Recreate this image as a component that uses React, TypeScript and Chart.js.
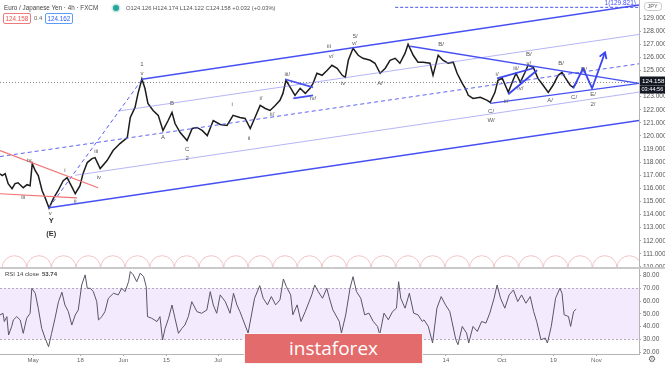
import React, { useEffect, useRef } from 'react';
import { Chart, registerables } from 'chart.js';
Chart.register(...registerables);

// ---- time axis (trading days since 1 May 2020) ----
const X_MIN = -7.7;
const X_MAX = 140.9;
const xTickDays = [0, 11, 21, 31, 43, 51, 66, 76, 87, 96, 109, 121, 131];
const xTickLabels = ['May', '18', 'Jun', '15', 'Jul', '13', 'Aug', '17', 'Sep', '14', 'Oct', '19', 'Nov'];

// ---- price (EUR/JPY 4h, traced) ----
const priceDays = [-7.7,-7.2,-6.5,-5.8,-4.9,-4.2,-3.5,-2.3,-1.4,-0.7,
-0.2,0.5,1.2,2.1,2.8,3.7,4.7,5.8,7.0,7.9,
9.1,9.8,10.9,11.6,12.6,13.7,14.4,15.6,17.2,18.6,
20.2,21.9,22.6,23.7,24.4,25.3,26.0,26.7,27.9,29.1,
30.2,31.4,32.3,33.0,34.2,35.8,37.0,38.1,39.3,40.5,
41.9,43.5,45.1,46.5,48.1,49.3,50.5,51.6,52.8,54.0,
55.1,56.3,57.4,58.1,58.8,59.8,60.9,62.1,63.3,64.4,
65.1,66.0,67.2,68.4,69.5,70.7,71.9,72.6,73.3,74.4,
75.6,76.7,78.4,79.5,80.7,81.9,83.0,84.2,85.3,86.5,
87.2,88.4,89.5,90.7,92.3,93.0,94.2,95.3,96.5,97.7,
98.6,99.8,100.5,101.2,102.3,104.0,105.6,106.3,107.4,108.1,
109.1,109.8,110.5,111.6,112.3,113.3,114.4,115.1,116.3,117.4,
118.6,119.8,120.9,122.1,123.0,123.7,124.9,125.6,126.5];
const priceClose = [117.12,116.97,117.12,116.36,115.97,116.36,116.43,116.05,116.28,116.20,
117.89,117.35,116.97,115.82,115.28,114.5,115.21,115.82,116.59,116.82,
116.05,115.59,116.20,117.12,117.97,118.27,118.35,117.51,118.12,118.89,
119.42,119.88,121.41,122.18,123.25,124.35,123.64,122.49,121.95,121.57,
120.42,121.18,121.80,120.95,120.26,119.65,120.57,120.65,120.42,120.03,
121.18,120.88,120.80,121.57,121.41,121.34,120.57,121.41,122.33,122.10,
121.95,122.33,122.72,123.25,124.25,123.71,123.10,123.64,123.25,123.64,
124.02,124.79,124.63,125.02,125.40,125.17,124.63,124.48,125.78,126.70,
126.16,125.93,125.78,125.55,124.79,125.17,125.78,125.93,125.55,126.32,
127.0,126.16,125.63,125.63,125.55,124.63,126.16,125.78,125.55,125.63,
124.79,124.02,123.64,123.10,122.87,122.95,122.72,122.56,123.33,124.25,
124.40,123.87,123.33,124.25,124.79,124.10,124.86,125.40,125.25,124.40,
123.87,123.33,123.87,124.63,124.86,124.48,123.87,123.71,124.158];
const lastPrice = 124.158;
const PRICE_MIN = 109.92;
const PRICE_MAX = 130.38;

// ---- RSI 14 (traced) ----
const rsiDays = [-7.7,-7.0,-6.7,-6.1,-5.7,-5.0,-4.6,-3.8,-3.0,-2.3,
-1.5,-0.7,-0.3,0.5,1.2,2.0,2.8,3.6,4.3,5.1,
5.9,6.7,7.4,8.2,9.0,9.8,10.5,11.3,12.1,12.6,
13.3,14.0,14.8,15.2,16.0,16.7,17.5,18.7,19.8,20.6,
21.4,22.2,22.6,23.3,24.1,24.9,25.7,26.3,26.6,27.6,
28.8,29.5,30.1,30.7,31.5,32.3,33.0,33.8,34.6,35.3,
36.1,36.9,38.1,39.2,40.4,41.2,41.9,42.7,43.5,44.7,
45.8,46.6,47.4,48.1,
50.0,51.5,52.7,53.5,54.5,55.4,56.4,57.4,58.2,58.9,
59.9,60.4,61.4,62.3,63.3,64.8,65.5,66.3,67.3,68.3,
68.8,69.7,71.2,71.7,72.7,73.7,74.4,75.2,76.2,77.1,
78.1,79.1,80.1,80.6,81.6,82.6,83.6,84.5,85.0,85.5,
86.5,87.5,88.5,89.5,90.5,90.9,91.9,92.9,93.9,94.9,
95.9,96.9,97.4,98.3,98.8,99.8,100.8,101.3,102.3,103.3,
104.3,105.3,106.2,107.2,107.9,108.7,109.7,110.7,111.7,112.7,
113.6,114.6,115.6,116.4,117.1,118.1,119.1,119.6,120.5,121.5,
122.5,123.0,123.5,124.5,125.0,125.7,126.3];
const rsiValues = [49.1,50.4,43.9,47.8,33.4,39.9,45.2,47.8,45.2,34.7,
46.5,50.4,70,66.1,54.3,38.6,30.8,24.2,34.7,46.5,
59.5,66.9,56.9,51.7,41.2,49.1,53.0,72.6,80.5,70,
70,67.4,59.5,45.2,47.8,51.7,62.2,66.1,64.8,70,
67.4,75.2,83.1,80.5,75.2,81.8,79.2,71.3,47.8,46.5,
43.9,47.8,29.5,38.6,46.5,56.9,46.5,34.7,38.6,41.2,
47.8,59.5,51.7,50.4,53.0,67.4,56.9,50.4,64.8,59.5,
50.4,66.1,56.9,51.7,
34.9,62.2,72.1,62.2,57.0,63.5,57.0,60.9,77.3,71.3,
64.8,49.2,57.0,44.0,51.8,64.8,72.6,67.4,62.2,70,
63.5,53.1,44.0,34.9,49.2,70,79.1,67.4,62.2,49.2,
50.5,44.0,40.1,33.6,50.5,45.3,51.8,54.4,75.2,62.2,
54.4,66.1,50.5,49.2,44.0,45.3,40.1,27.1,54.4,63.5,
57.0,51.8,44.0,29.7,25.8,40.1,34.9,27.1,40.1,36.2,
44.0,42.7,50.5,62.2,72.6,62.2,54.4,64.8,68.7,59.6,
64.8,58.3,63.5,51.8,44.0,29.7,31.0,27.1,40.1,62.2,
70,66.1,49.2,47.9,40.1,51.8,53.74];
const RSI_MIN = 18.5;
const RSI_MAX = 85.9;
const rsiUpper = 70;
const rsiLower = 30;

// ---- drawings: [day, price] ----
const channelUpper = [[25.3, 124.33], [140.9, 130.0]];
const channelLower = [[3.7, 114.52], [140.9, 121.18]];
const channelMid = [[-7.7, 118.43], [140.9, 125.51]];
const quarterUpper = [[19.8, 121.9], [140.9, 127.75]];
const quarterLower = [[9.8, 117.0], [140.9, 123.35]];
const wave1Line = [[3.7, 114.52], [25.3, 124.3]];
const redUpper = [[-7.7, 118.89], [15.1, 116.05]];
const redLower = [[-7.7, 115.59], [10.2, 115.28]];
const triUpper = [[58.6, 124.33], [65.1, 123.71]];
const triLower = [[60.5, 122.87], [65.1, 123.10]];
const bLine = [[87.7, 126.85], [140.9, 124.02]];
const cLine = [[106.3, 122.49], [140.9, 124.02]];
const wedgeUpper = [[107.9, 124.40], [116.3, 125.17]];
const wedgeLower = [[110.5, 123.18], [117.2, 125.02]];
const projection = [[125.6, 123.64], [127.9, 125.17], [130.0, 123.64], [133.0, 126.39]];
const targetLevel = 129.821;
const targetStartDay = 84.2;
const cycleStartDay = -7.2;
const cyclePeriodDays = 5.72;

const waveLabelDays = [-2.3, -0.9, 4.0, 4.2, 4.2, 7.4, 9.8, 14.7, 15.3, 25.3, 25.3, 32.3, 30.2, 35.8, 35.8,
  46.3, 50.2, 53.0, 55.6, 59.1, 65.1, 68.8, 69.3, 72.1, 74.9, 74.7, 80.7, 94.9,
  115.3, 107.9, 112.3, 115.3, 113.3, 110.0, 106.5, 106.5, 120.2, 122.8, 125.8, 128.1, 130.2, 130.2];
const waveLabelPrices = [115.28, 118.12, 114.13, 113.55, 112.5, 117.35, 114.98, 118.81, 116.82, 125.48, 124.79, 122.49, 119.88, 118.96, 118.27,
  122.41, 119.80, 122.87, 121.64, 124.71, 122.87, 126.85, 126.09, 124.02, 127.62, 127.08, 124.02, 127.0,
  126.24, 124.71, 125.17, 125.55, 123.64, 122.64, 121.87, 121.18, 122.72, 125.55, 122.95, 125.09, 123.18, 122.41];
const waveLabelTexts = ['iii', 'iv', 'v', 'Y', '(E)', 'i', 'ii', 'iii', 'iv', '1', 'v', 'B', 'A', 'C', '2',
  'i', 'ii', 'i/', 'ii/', 'iii/', 'iv/', 'iii', 'v/', 'iv', '5/', 'v/', 'A/', 'B/',
  'B/', 'i/', 'iii/', 'v/', 'iv/', 'ii/', 'C/', 'W/', 'A/', 'B/', 'C/', 'D/', 'E/', '2/'];

const FONT = '"Liberation Sans", Arial, sans-serif';

function noPad(s: any) {
  s.paddingTop = 0; s.paddingBottom = 0; s.paddingLeft = 0; s.paddingRight = 0;
}

function polyline(ctx: CanvasRenderingContext2D, chart: any, pts: number[][], color: string, width: number, dash: number[] = []) {
  const xs = chart.scales.x, ys = chart.scales.y;
  ctx.save();
  ctx.strokeStyle = color;
  ctx.lineWidth = width;
  ctx.setLineDash(dash);
  ctx.lineJoin = 'round';
  ctx.beginPath();
  pts.forEach((p, i) => {
    const px = xs.getPixelForValue(p[0]);
    const py = ys.getPixelForValue(p[1]);
    if (i === 0) ctx.moveTo(px, py); else ctx.lineTo(px, py);
  });
  ctx.stroke();
  ctx.restore();
}

const mainOverlay = {
  id: 'mainOverlay',
  beforeDatasetsDraw(chart: any) {
    const { ctx, chartArea } = chart;
    const xs = chart.scales.x, ys = chart.scales.y;
    ctx.save();
    ctx.beginPath();
    ctx.rect(chartArea.left, chartArea.top, chartArea.right - chartArea.left, chartArea.bottom - chartArea.top);
    ctx.clip();
    const r = (xs.getPixelForValue(cyclePeriodDays) - xs.getPixelForValue(0)) / 2;
    ctx.strokeStyle = '#f3c4c4';
    ctx.lineWidth = 1;
    for (let k = 0; k < 40; k++) {
      const c = xs.getPixelForValue(cycleStartDay + (k + 0.5) * cyclePeriodDays);
      ctx.beginPath();
      ctx.arc(c, chartArea.bottom, r, Math.PI, 2 * Math.PI);
      ctx.stroke();
    }
    const lp = ys.getPixelForValue(lastPrice);
    ctx.strokeStyle = '#8a8a8a';
    ctx.setLineDash([1, 2]);
    ctx.beginPath();
    ctx.moveTo(chartArea.left, Math.round(lp) + 0.5);
    ctx.lineTo(chartArea.right, Math.round(lp) + 0.5);
    ctx.stroke();
    ctx.restore();
  },
  afterDatasetsDraw(chart: any) {
    const { ctx, chartArea } = chart;
    const xs = chart.scales.x, ys = chart.scales.y;
    ctx.save();
    ctx.beginPath();
    ctx.rect(chartArea.left, chartArea.top, chartArea.right - chartArea.left, chartArea.bottom - chartArea.top);
    ctx.clip();
    const light = 'rgba(120,120,238,0.55)';
    const blue = '#4650f2';
    polyline(ctx, chart, quarterUpper, light, 1);
    polyline(ctx, chart, quarterLower, light, 1);
    polyline(ctx, chart, channelMid, '#5a63f2', 1, [4, 3]);
    polyline(ctx, chart, wave1Line, '#5a63f2', 1, [4, 3]);
    polyline(ctx, chart, channelUpper, blue, 1.3);
    polyline(ctx, chart, channelLower, blue, 1.3);
    polyline(ctx, chart, redUpper, '#f27272', 1.2);
    polyline(ctx, chart, redLower, '#f27272', 1.2);
    polyline(ctx, chart, triUpper, blue, 1.6);
    polyline(ctx, chart, triLower, blue, 1.6);
    polyline(ctx, chart, bLine, blue, 1.3);
    polyline(ctx, chart, cLine, blue, 1.3);
    polyline(ctx, chart, wedgeUpper, '#3a44f2', 1.8);
    polyline(ctx, chart, wedgeLower, '#3a44f2', 1.8);
    polyline(ctx, chart, projection, '#3a44f2', 1.8);
    const a = projection[projection.length - 2], b = projection[projection.length - 1];
    const ax = xs.getPixelForValue(a[0]), ay = ys.getPixelForValue(a[1]);
    const bx = xs.getPixelForValue(b[0]), by = ys.getPixelForValue(b[1]);
    const ang = Math.atan2(by - ay, bx - ax);
    ctx.strokeStyle = '#3a44f2';
    ctx.lineWidth = 1.8;
    ctx.setLineDash([]);
    ctx.beginPath();
    ctx.moveTo(bx - 7 * Math.cos(ang - 0.55), by - 7 * Math.sin(ang - 0.55));
    ctx.lineTo(bx, by);
    ctx.lineTo(bx - 7 * Math.cos(ang + 0.55), by - 7 * Math.sin(ang + 0.55));
    ctx.stroke();
    const ty = ys.getPixelForValue(targetLevel);
    ctx.strokeStyle = '#4650f2';
    ctx.lineWidth = 1;
    ctx.setLineDash([3, 2]);
    ctx.beginPath();
    ctx.moveTo(xs.getPixelForValue(targetStartDay), ty);
    ctx.lineTo(chartArea.right, ty);
    ctx.stroke();
    ctx.setLineDash([]);
    ctx.fillStyle = '#4650f2';
    ctx.font = `6.5px ${FONT}`;
    ctx.textAlign = 'right';
    ctx.textBaseline = 'bottom';
    ctx.fillText(`1(${targetLevel.toFixed(3)})`, chartArea.right - 3, ty - 0.5);
    ctx.textAlign = 'center';
    ctx.textBaseline = 'middle';
    waveLabelTexts.forEach((t, i) => {
      const big = t === 'Y' || t === '(E)';
      ctx.font = big ? `bold 7.5px ${FONT}` : `6px ${FONT}`;
      ctx.fillStyle = big ? '#333' : '#555';
      ctx.fillText(t, xs.getPixelForValue(waveLabelDays[i]), ys.getPixelForValue(waveLabelPrices[i]));
    });
    ctx.restore();
  },
  afterDraw(chart: any) {
    const { ctx, chartArea } = chart;
    const ys = chart.scales.y;
    const lp = ys.getPixelForValue(lastPrice);
    const x0 = chartArea.right + 1;
    ctx.save();
    ctx.fillStyle = '#131722';
    ctx.fillRect(x0, lp - 5, 665 - x0, 9);
    ctx.fillRect(x0, lp + 4, 665 - x0, 8);
    ctx.fillStyle = '#fff';
    ctx.font = `6.2px ${FONT}`;
    ctx.textAlign = 'left';
    ctx.textBaseline = 'middle';
    ctx.fillText(lastPrice.toFixed(3), x0 + 2, lp - 0.5);
    ctx.font = `5.6px ${FONT}`;
    ctx.fillText('03:44:56', x0 + 1.5, lp + 8);
    ctx.strokeStyle = '#c8c8c8';
    ctx.lineWidth = 1;
    ctx.beginPath();
    (ctx as any).roundRect ? (ctx as any).roundRect(x0 + 4.5, 2.5, 17, 8, 3) : ctx.rect(x0 + 4.5, 2.5, 17, 8);
    ctx.stroke();
    ctx.fillStyle = '#555';
    ctx.font = `5.5px ${FONT}`;
    ctx.fillText('JPY', x0 + 7.5, 6.8);
    ctx.strokeStyle = '#c9c9c9';
    ctx.beginPath();
    ctx.moveTo(0, chartArea.bottom - 0.5);
    ctx.lineTo(665, chartArea.bottom - 0.5);
    ctx.stroke();
    ctx.restore();
  },
};

const rsiOverlay = {
  id: 'rsiOverlay',
  beforeDatasetsDraw(chart: any) {
    const { ctx, chartArea } = chart;
    const ys = chart.scales.y;
    const y70 = ys.getPixelForValue(rsiUpper), y30 = ys.getPixelForValue(rsiLower);
    ctx.save();
    ctx.fillStyle = 'rgba(149,76,233,0.11)';
    ctx.fillRect(chartArea.left, y70, chartArea.right - chartArea.left, y30 - y70);
    ctx.strokeStyle = '#b3aabb';
    ctx.lineWidth = 1;
    ctx.setLineDash([2, 2]);
    [y70, y30].forEach((y) => {
      ctx.beginPath();
      ctx.moveTo(chartArea.left, Math.round(y) + 0.5);
      ctx.lineTo(chartArea.right, Math.round(y) + 0.5);
      ctx.stroke();
    });
    ctx.restore();
  },
  afterDraw(chart: any) {
    const { ctx, chartArea } = chart;
    ctx.save();
    ctx.fillStyle = '#444';
    ctx.font = `6px ${FONT}`;
    ctx.textAlign = 'left';
    ctx.textBaseline = 'middle';
    ctx.fillText('RSI 14 close', 5, 6);
    ctx.font = `bold 6px ${FONT}`;
    ctx.fillText(rsiValues[rsiValues.length - 1].toFixed(2), 42, 6);
    ctx.fillStyle = '#666';
    ctx.font = `9px "DejaVu Sans"`;
    ctx.textAlign = 'center';
    ctx.fillText('\u2699', 652, chartArea.bottom + 6);
    ctx.strokeStyle = '#c9c9c9';
    ctx.beginPath();
    ctx.moveTo(0, 0.5);
    ctx.lineTo(665, 0.5);
    ctx.stroke();
    ctx.restore();
  },
};

export default function App() {
  const mainRef = useRef<HTMLCanvasElement>(null);
  const rsiRef = useRef<HTMLCanvasElement>(null);

  useEffect(() => {
    const main = new Chart(mainRef.current as HTMLCanvasElement, {
      type: 'line',
      data: {
        datasets: [{
          data: priceDays.map((d, i) => ({ x: d, y: priceClose[i] })),
          borderColor: '#1c1c1c',
          borderWidth: 1.5,
          pointRadius: 0,
          tension: 0,
        }],
      },
      options: {
        animation: false,
        responsive: false,
        maintainAspectRatio: false,
        layout: { padding: 0 },
        plugins: { legend: { display: false }, tooltip: { enabled: false } },
        scales: {
          x: { type: 'linear', min: X_MIN, max: X_MAX, display: false },
          y: {
            position: 'right',
            min: PRICE_MIN,
            max: PRICE_MAX,
            afterBuildTicks: (s: any) => { s.ticks = s.ticks.filter((t: any) => Number.isInteger(t.value) && t.value < 130); },
            afterFit: (s: any) => { s.width = 26; noPad(s); },
            ticks: { stepSize: 1, includeBounds: false, color: '#555', font: { size: 6.5, family: FONT }, padding: 2, callback: (v: any) => Number(v).toFixed(3) },
            grid: { drawOnChartArea: false, tickLength: 2, color: '#aaa' },
            border: { color: '#b5b5b5' },
          },
        },
      },
      plugins: [mainOverlay],
    } as any);

    const rsi = new Chart(rsiRef.current as HTMLCanvasElement, {
      type: 'line',
      data: {
        datasets: [{
          data: rsiDays.map((d, i) => ({ x: d, y: rsiValues[i] })),
          borderColor: '#5a5468',
          borderWidth: 1,
          pointRadius: 0,
          tension: 0,
        }],
      },
      options: {
        animation: false,
        responsive: false,
        maintainAspectRatio: false,
        layout: { padding: 0 },
        plugins: { legend: { display: false }, tooltip: { enabled: false } },
        scales: {
          x: {
            type: 'linear',
            min: X_MIN,
            max: X_MAX,
            afterBuildTicks: (s: any) => { s.ticks = xTickDays.map((v) => ({ value: v })); },
            afterFit: (s: any) => { s.height = 11; noPad(s); },
            ticks: {
              autoSkip: false, maxRotation: 0, color: '#666', padding: 1,
              font: { size: 6, family: FONT },
              callback: (v: any) => xTickLabels[xTickDays.indexOf(Number(v))] ?? '',
            },
            grid: { drawOnChartArea: false, tickLength: 2, color: '#aaa' },
            border: { color: '#b5b5b5' },
          },
          y: {
            position: 'right',
            min: RSI_MIN,
            max: RSI_MAX,
            afterBuildTicks: (s: any) => { s.ticks = s.ticks.filter((t: any) => Number.isInteger(t.value) && t.value % 10 === 0); },
            afterFit: (s: any) => { s.width = 26; noPad(s); },
            ticks: { stepSize: 10, includeBounds: false, color: '#555', font: { size: 6.5, family: FONT }, padding: 2, callback: (v: any) => Number(v).toFixed(2) },
            grid: { drawOnChartArea: false, tickLength: 2, color: '#aaa' },
            border: { color: '#b5b5b5' },
          },
        },
      },
      plugins: [rsiOverlay],
    } as any);

    return () => { main.destroy(); rsi.destroy(); };
  }, []);

  return (
    <div style={{ position: 'absolute', left: 0, top: 0, width: 665, height: 365, background: '#fff', overflow: 'hidden', fontFamily: FONT }}>
      <canvas ref={mainRef} width={665} height={268} style={{ position: 'absolute', left: 0, top: 0, width: 665, height: 268 }} />
      <canvas ref={rsiRef} width={665} height={97} style={{ position: 'absolute', left: 0, top: 268, width: 665, height: 97 }} />
      <div style={{ position: 'absolute', left: 4, top: 3.5, fontSize: 6.3, lineHeight: '8px', color: '#444', whiteSpace: 'nowrap' }}>
        Euro / Japanese Yen · 4h · FXCM
      </div>
      <div style={{ position: 'absolute', left: 113, top: 4.5, width: 6, height: 6, borderRadius: 3, background: '#26a69a', boxShadow: '0 0 0 1.5px rgba(38,166,154,0.25)' }} />
      <div style={{ position: 'absolute', left: 126, top: 4, fontSize: 5.8, lineHeight: '8px', color: '#555', whiteSpace: 'nowrap' }}>
        O124.126 H124.174 L124.122 C124.158 +0.032 (+0.03%)
      </div>
      <div style={{ position: 'absolute', left: 3, top: 13, width: 28, height: 11, boxSizing: 'border-box', border: '1px solid #f07a7a', borderRadius: 2, color: '#ef5350', fontSize: 6.3, lineHeight: '9px', textAlign: 'center' }}>124.158</div>
      <div style={{ position: 'absolute', left: 34, top: 13, fontSize: 6, lineHeight: '11px', color: '#666' }}>0.4</div>
      <div style={{ position: 'absolute', left: 45, top: 13, width: 28, height: 11, boxSizing: 'border-box', border: '1px solid #5b9cf6', borderRadius: 2, color: '#2962ff', fontSize: 6.3, lineHeight: '9px', textAlign: 'center' }}>124.162</div>
      <div style={{ position: 'absolute', left: 244, top: 333, width: 179, height: 31, boxSizing: 'border-box', background: '#e46b6b', border: '1px solid #f4f4f4', color: '#fff', fontFamily: '"Open Sans", sans-serif', fontSize: 19, lineHeight: '28px', textAlign: 'center' }}>
        instaforex
      </div>
    </div>
  );
}
